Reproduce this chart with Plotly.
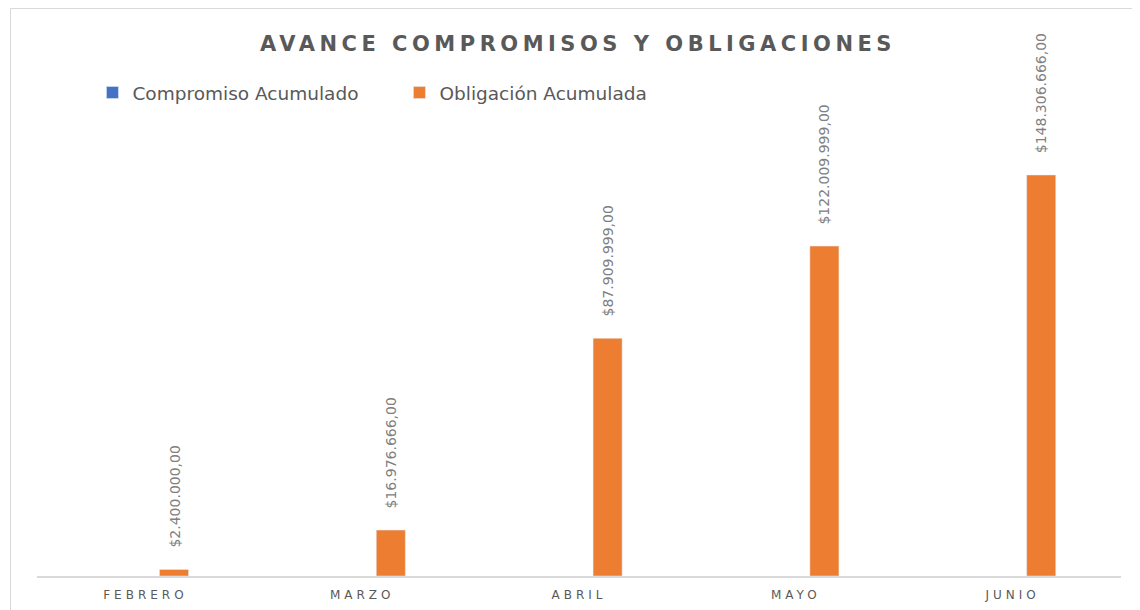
import plotly.graph_objects as go

months = ["FEBRERO", "MARZO", "ABRIL", "MAYO", "JUNIO"]
compromiso = [None, None, None, None, None]
obligacion = [2400000.00, 16976666.00, 87909999.00, 122009999.00, 148306666.00]
labels = ["$2.400.000,00", "$16.976.666,00", "$87.909.999,00", "$122.009.999,00", "$148.306.666,00"]

# page has an 8px body margin: figure coords = reference px - 8
OFF = 8
W, H = 1140 - OFF, 610 - OFF
ML, MR, MT, MB = 28.5, 18.5, 52, 34
plot_w = W - ML - MR
plot_h = H - MT - MB
px_per_unit = 401 / 148306666.0
ymax = plot_h / px_per_unit

bar_w = 0.134
off = 0.065

def spaced(s, sp):
    return '<span style="letter-spacing:%spx">%s</span>' % (sp, s)

fig = go.Figure()
fig.add_trace(go.Bar(
    name="Compromiso Acumulado", x=months, y=compromiso,
    marker_color="#4472C4", width=bar_w, offset=-off - bar_w,
))
fig.add_trace(go.Bar(
    name="Obligación Acumulada", x=months, y=obligacion,
    marker=dict(color="#ED7D31"), width=bar_w, offset=off,
))

cat_px = plot_w / len(months)
xshift = (off + bar_w / 2) * cat_px
for m, v, t in zip(months, obligacion, labels):
    fig.add_annotation(
        x=m, y=v, text=t, showarrow=False, textangle=-90,
        xanchor="center", yanchor="bottom", xshift=xshift, yshift=20,
        font=dict(family="DejaVu Sans", size=14, color="#808080"),
    )

def px2x(p):
    return (p - OFF - ML) / plot_w

def py2y(p):
    return (H - MB - (p - OFF)) / plot_h

fig.add_shape(type="rect", xref="paper", yref="paper",
              x0=px2x(10), x1=px2x(1160), y0=py2y(640), y1=py2y(8.5),
              line=dict(color="#d9d9d9", width=1), fillcolor="rgba(0,0,0,0)",
              layer="below")

fig.update_layout(
    width=W, height=H,
    margin=dict(l=ML, r=MR, t=MT, b=MB, autoexpand=False),
    paper_bgcolor="white", plot_bgcolor="white",
    title=dict(text="<b>" + spaced("AVANCE COMPROMISOS Y OBLIGACIONES", 4.5) + "</b>",
               x=(578 - OFF) / W, xanchor="center",
               y=1 - (44 - OFF) / H, yanchor="middle",
               font=dict(family="DejaVu Sans", size=21, color="#595959")),
    legend=dict(orientation="h", x=px2x(92), y=py2y(93), xanchor="left", yanchor="middle",
                font=dict(family="DejaVu Sans", size=18.5, color="#595959"),
                entrywidth=262, entrywidthmode="pixels", bgcolor="rgba(0,0,0,0)"),
    barmode="overlay",
    xaxis=dict(tickmode="array", tickvals=months, ticktext=[spaced(m, 4) for m in months],
               tickfont=dict(family="DejaVu Sans", size=12, color="#595959"),
               showline=True, linecolor="#d9d9d9", linewidth=1.5, showgrid=False,
               ticks="", ticklabelstandoff=7, automargin=False, fixedrange=True),
    yaxis=dict(range=[0, ymax], visible=False, showgrid=False, zeroline=False,
               automargin=False),
    showlegend=True,
)

fig.write_html("out.html")
